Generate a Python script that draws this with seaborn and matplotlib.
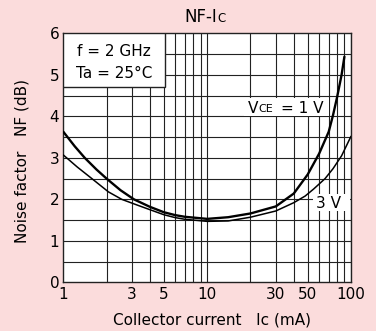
import numpy as np
import pandas as pd
import matplotlib
matplotlib.use("Agg")
import matplotlib.pyplot as plt
from matplotlib.patches import Rectangle
import seaborn as sns

# values (Ic in mA, NF in dB)
ic_1v = [1, 1.2, 1.41, 1.7, 2, 2.5, 3.1, 4, 5, 6, 7, 10, 14, 20, 30, 40, 50, 60, 70, 75, 80, 86, 90]
nf_1v = [3.63, 3.28, 3.0, 2.72, 2.5, 2.22, 2.0, 1.82, 1.69, 1.62, 1.58, 1.53, 1.57, 1.66, 1.83, 2.14,
         2.6, 3.1, 3.63, 4.03, 4.46, 5.0, 5.44]
ic_3v = [1, 1.25, 1.58, 2.06, 2.55, 3.4, 5, 6, 7, 10, 14, 20, 30, 40, 48, 55, 66, 75, 86, 100]
nf_3v = [3.07, 2.78, 2.5, 2.18, 2.0, 1.84, 1.63, 1.56, 1.52, 1.47, 1.48, 1.57, 1.72, 1.92, 2.08,
         2.25, 2.5, 2.74, 3.05, 3.52]
xtick_vals = [1, 3, 5, 10, 30, 50, 100]
ytick_vals = [0, 1, 2, 3, 4, 5, 6]

bg = "#fbdcdc"
fs = 11

sns.set_style("white")
plt.rcParams["font.family"] = ["DejaVu Sans"]
plt.rcParams["text.color"] = "black"
plt.rcParams["axes.labelcolor"] = "black"

df = pd.concat([
    pd.DataFrame({"ic": ic_1v, "nf": nf_1v, "vce": "1 V"}),
    pd.DataFrame({"ic": ic_3v, "nf": nf_3v, "vce": "3 V"}),
])

fig = plt.figure(figsize=(3.76, 3.31), dpi=100, facecolor=bg)
ax = fig.add_axes([0.1684, 0.147, 0.7651, 0.752])
ax.set_facecolor("white")

sns.lineplot(data=df, x="ic", y="nf", hue="vce", size="vce",
             palette={"1 V": "black", "3 V": "black"},
             sizes={"1 V": 1.7, "3 V": 1.1}, legend=False, ax=ax, zorder=3)

ax.set_xscale("log")
ax.set_xlim(1, 100)
ax.set_ylim(0, 6)

# grid: 1..9 per decade on x, every 0.5 dB on y
gc = "#222222"
for d in [1, 10]:
    for k in range(2, 11):
        ax.axvline(d * k, color=gc, lw=0.8, zorder=1)
for yv in np.arange(0.5, 6, 0.5):
    ax.axhline(yv, color=gc, lw=0.8, zorder=1)
for s in ax.spines.values():
    s.set_color(gc)
    s.set_linewidth(1.0)

ax.set_xticks(xtick_vals)
ax.set_xticklabels([str(v) for v in xtick_vals])
ax.xaxis.set_minor_locator(matplotlib.ticker.NullLocator())
ax.set_yticks(ytick_vals)
ax.tick_params(length=0, labelsize=fs, colors="black")
ax.tick_params(axis="x", pad=3)
ax.tick_params(axis="y", pad=3)

ax.set_xlabel("Collector current   Ic (mA)", fontsize=fs, color="black")
ax.set_ylabel("Noise factor   NF (dB)", fontsize=fs, color="black")
ax.xaxis.set_label_coords(0.516, -0.151)
ax.xaxis.label.set_va("center")
ax.yaxis.set_label_coords(-0.143, 0.487)
ax.yaxis.label.set_va("center")

fig.text(0.578, 0.948, "NF-I", fontsize=12, ha="right", va="center")
fig.text(0.578, 0.944, "C", fontsize=8.5, ha="left", va="center")

# condition box in the top-left corner
ax.add_patch(Rectangle((0, 0.784), 0.354, 0.216, transform=ax.transAxes,
                       fc="white", ec=gc, lw=1.0, zorder=4))
ax.text(0.177, 0.926, "f = 2 GHz", transform=ax.transAxes, fontsize=fs,
        ha="center", va="center", zorder=5)
ax.text(0.177, 0.839, "Ta = 25°C", transform=ax.transAxes, fontsize=fs,
        ha="center", va="center", zorder=5)

# curve labels on white patches
ax.add_patch(Rectangle((0.627, 0.67), 0.298, 0.07, transform=ax.transAxes,
                       fc="white", ec="none", zorder=2))
ax.text(0.641, 0.70, "V", transform=ax.transAxes, fontsize=fs,
        va="center", ha="left", zorder=5)
ax.text(0.678, 0.695, "CE", transform=ax.transAxes, fontsize=8,
        va="center", ha="left", zorder=5)
ax.text(0.755, 0.70, "= 1 V", transform=ax.transAxes, fontsize=fs,
        va="center", ha="left", zorder=5)

ax.add_patch(Rectangle((0.868, 0.285), 0.128, 0.07, transform=ax.transAxes,
                       fc="white", ec="none", zorder=2))
ax.text(0.88, 0.318, "3 V", transform=ax.transAxes, fontsize=fs,
        va="center", ha="left", zorder=5)

fig.savefig("out.png", dpi=100, facecolor=bg)
